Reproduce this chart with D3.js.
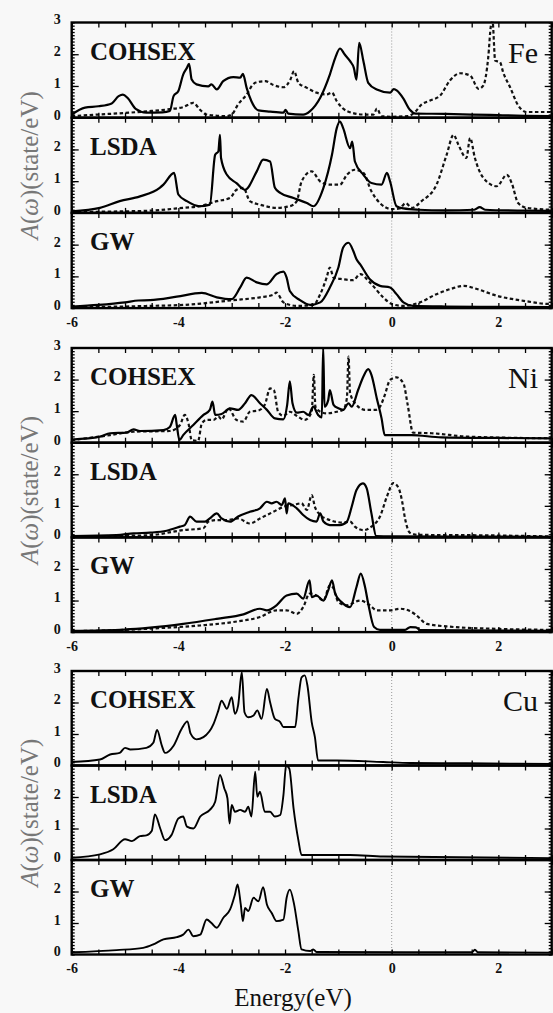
<!DOCTYPE html>
<html>
<head>
<meta charset="utf-8">
<script src="https://cdn.jsdelivr.net/npm/d3@7"></script>
<style>
  body { margin: 0; background: #f8f8f8; }
  svg { display: block; font-family: "Liberation Serif", "Times New Roman", serif; }
</style>
</head>
<body>
<svg id="chart" width="553" height="1013"></svg>
<script>
// Spectral functions A(w), [energy (eV), state/eV].
// solid = one spin channel, dotted = the other.

var elements = ['Fe', 'Ni', 'Cu'];
var methods = ['COHSEX', 'LSDA', 'GW'];
var xTickLabels = [-6, -4, -2, 0, 2];
var yTickLabels = [0, 1, 2, 3];

// Fe
var feCohsexSolid = [[-6,0.1],[-5.75,0.32],[-5.5,0.36],[-5.25,0.45],[-5.12,0.68],[-5.04,0.73],[-4.95,0.62],[-4.8,0.28],[-4.6,0.16],[-4.3,0.17],[-4.16,0.21],[-4.09,0.68],[-4.0,0.84],[-3.91,1.36],[-3.84,1.57],[-3.8,1.7],[-3.75,1.2],[-3.66,1.05],[-3.44,0.99],[-3.38,1.05],[-3.28,0.89],[-3.16,1.15],[-2.97,1.28],[-2.84,1.26],[-2.79,1.38],[-2.72,0.94],[-2.63,0.52],[-2.5,0.23],[-2.28,0.19],[-2.03,0.16],[-1.99,0.25],[-1.94,0.13],[-1.66,0.1],[-1.53,0.21],[-1.34,0.63],[-1.16,1.36],[-1.06,1.88],[-0.97,2.18],[-0.88,1.99],[-0.78,1.78],[-0.71,1.57],[-0.66,1.2],[-0.61,2.36],[-0.53,1.78],[-0.44,1.1],[-0.28,0.89],[-0.03,0.79],[0.04,0.9],[0.1,0.85],[0.22,0.6],[0.34,0.25],[0.45,0.13],[1.0,0.12],[1.5,0.1],[2.0,0.08],[2.5,0.06],[3.0,0.05]];
var feCohsexDotted = [[-6,0.05],[-5.5,0.1],[-5.0,0.15],[-4.6,0.2],[-4.16,0.27],[-3.9,0.34],[-3.72,0.47],[-3.6,0.26],[-3.47,0.1],[-3.1,0.05],[-3.0,0.1],[-2.88,0.42],[-2.72,0.73],[-2.6,1.05],[-2.5,1.13],[-2.37,1.15],[-2.22,1.03],[-2.03,0.96],[-1.9,1.2],[-1.83,1.47],[-1.75,1.1],[-1.59,0.94],[-1.41,0.79],[-1.22,0.73],[-1.12,0.79],[-1.03,0.52],[-0.84,0.21],[-0.53,0.1],[-0.34,0.1],[-0.28,0.29],[-0.19,0.05],[0,0.03],[0.3,0.05],[0.45,0.2],[0.55,0.4],[0.72,0.54],[0.91,0.7],[1.09,1.17],[1.28,1.4],[1.47,1.33],[1.63,0.91],[1.72,1.02],[1.81,1.9],[1.86,2.9],[1.89,3.05],[1.94,1.8],[2.03,1.75],[2.09,1.43],[2.22,0.96],[2.37,0.39],[2.53,0.18],[3.0,0.18]];
var feLsdaSolid = [[-6,0.05],[-5.47,0.16],[-5.1,0.37],[-4.72,0.52],[-4.35,0.79],[-4.28,0.89],[-4.08,1.26],[-4.0,0.58],[-3.84,0.37],[-3.6,0.21],[-3.41,0.26],[-3.31,1.83],[-3.25,1.94],[-3.22,2.46],[-3.2,1.73],[-3.09,1.2],[-2.91,0.94],[-2.75,0.73],[-2.53,1.31],[-2.41,1.68],[-2.28,1.62],[-2.19,0.79],[-2.09,0.63],[-1.84,0.47],[-1.59,0.31],[-1.47,0.21],[-1.28,0.79],[-1.12,1.83],[-1.03,2.67],[-0.97,2.88],[-0.91,2.67],[-0.78,2.04],[-0.74,2.25],[-0.69,1.62],[-0.53,1.2],[-0.38,0.94],[-0.19,0.89],[-0.09,1.26],[-0.03,0.99],[0.09,0.21],[0.22,0.14],[0.5,0.1],[1.0,0.08],[1.55,0.1],[1.65,0.18],[1.75,0.1],[2.5,0.07],[3,0.06]];
var feLsdaDotted = [[-6,0.03],[-5,0.05],[-4.53,0.07],[-3.91,0.16],[-3.6,0.21],[-3.28,0.37],[-3.03,0.47],[-2.91,0.73],[-2.78,0.79],[-2.66,0.37],[-2.47,0.26],[-2.16,0.16],[-1.91,0.21],[-1.78,0.37],[-1.69,0.99],[-1.5,1.31],[-1.34,0.99],[-1.16,0.89],[-0.97,0.89],[-0.84,1.2],[-0.69,1.36],[-0.53,1.26],[-0.38,0.68],[-0.22,0.31],[0,0.12],[0.15,0.14],[0.26,0.31],[0.38,0.16],[0.56,0.37],[0.84,0.89],[1.03,1.83],[1.16,2.46],[1.25,2.15],[1.4,1.73],[1.47,2.36],[1.56,1.73],[1.72,1.1],[1.97,0.84],[2.16,1.2],[2.25,0.94],[2.37,0.31],[2.53,0.16],[3.0,0.1]];
var feGwSolid = [[-6,0.05],[-5.5,0.1],[-5,0.18],[-4.75,0.24],[-4.53,0.25],[-4.03,0.36],[-3.56,0.48],[-3.28,0.34],[-3.0,0.28],[-2.84,0.65],[-2.72,0.96],[-2.53,0.81],[-2.34,0.75],[-2.16,1.07],[-2.03,1.15],[-1.97,0.96],[-1.91,0.54],[-1.72,0.25],[-1.53,0.1],[-1.34,0.18],[-1.16,0.65],[-1.0,1.28],[-0.91,1.91],[-0.81,2.06],[-0.72,1.8],[-0.66,1.54],[-0.59,1.38],[-0.41,0.91],[-0.22,0.7],[-0.03,0.65],[0.09,0.44],[0.22,0.18],[0.4,0.07],[1,0.05],[2,0.04],[3,0.03]];
var feGwDotted = [[-6,0.03],[-5,0.05],[-4.53,0.07],[-3.91,0.1],[-2.97,0.25],[-2.47,0.34],[-2.22,0.42],[-2.16,0.49],[-2.03,0.18],[-1.78,0.07],[-1.47,0.1],[-1.34,0.44],[-1.22,0.96],[-1.16,1.28],[-1.09,0.96],[-0.91,0.91],[-0.72,0.88],[-0.59,1.07],[-0.41,0.81],[-0.16,0.34],[0,0.13],[0.22,0.07],[0.53,0.18],[0.84,0.44],[1.1,0.6],[1.35,0.7],[1.6,0.6],[1.97,0.39],[2.47,0.23],[2.97,0.13],[3,0.13]];

// Ni
var niCohsexSolid = [[-6,0.1],[-5.47,0.19],[-5.28,0.3],[-4.97,0.32],[-4.84,0.42],[-4.72,0.37],[-4.28,0.4],[-4.16,0.5],[-4.06,0.88],[-4.03,0.56],[-3.98,0.08],[-3.91,0.24],[-3.72,0.56],[-3.53,0.88],[-3.41,1.04],[-3.36,1.3],[-3.31,0.88],[-3.19,0.91],[-3.03,1.09],[-2.88,1.04],[-2.75,1.25],[-2.63,1.51],[-2.47,1.25],[-2.34,1.04],[-2.19,0.77],[-2.03,0.74],[-1.96,1.2],[-1.91,1.94],[-1.86,1.25],[-1.78,0.95],[-1.66,0.98],[-1.56,0.88],[-1.47,1.14],[-1.38,0.88],[-1.31,0.8],[-1.285,3.05],[-1.26,1.14],[-1.19,1.35],[-1.16,1.67],[-1.09,1.2],[-1.0,1.09],[-0.91,1.04],[-0.81,1.25],[-0.75,1.14],[-0.63,1.67],[-0.53,2.1],[-0.44,2.33],[-0.38,2.15],[-0.28,1.41],[-0.19,0.77],[-0.13,0.24],[0.03,0.24],[0.37,0.24],[0.93,0.17],[2,0.15],[3,0.14]];
var niCohsexDotted = [[-6,0.08],[-5.28,0.24],[-4.84,0.35],[-4.16,0.37],[-3.97,0.56],[-3.88,0.88],[-3.81,0.61],[-3.75,0.08],[-3.63,0.06],[-3.56,0.61],[-3.47,0.72],[-3.34,0.72],[-3.25,0.83],[-3.19,0.74],[-3.06,1.09],[-2.91,0.72],[-2.78,0.67],[-2.66,0.98],[-2.5,1.02],[-2.38,1.2],[-2.28,1.72],[-2.21,1.67],[-2.13,0.98],[-2.03,0.85],[-1.91,0.98],[-1.78,0.85],[-1.63,0.72],[-1.5,0.98],[-1.46,2.15],[-1.43,1.14],[-1.34,0.98],[-1.22,0.93],[-1.03,0.98],[-0.91,1.04],[-0.84,1.41],[-0.81,2.73],[-0.78,1.57],[-0.66,1.2],[-0.5,1.04],[-0.31,1.04],[-0.22,1.14],[-0.13,1.51],[-0.03,1.99],[0.09,2.07],[0.22,1.88],[0.3,1.2],[0.4,0.32],[0.75,0.3],[1.44,0.19],[3,0.14]];
var niLsdaSolid = [[-6,0.04],[-5.16,0.07],[-4.84,0.13],[-4.53,0.15],[-4.22,0.21],[-3.97,0.34],[-3.88,0.39],[-3.78,0.66],[-3.66,0.5],[-3.5,0.5],[-3.41,0.6],[-3.28,0.76],[-3.19,0.6],[-3.03,0.5],[-2.88,0.66],[-2.66,0.81],[-2.47,0.92],[-2.34,1.13],[-2.25,1.08],[-2.16,1.13],[-2.06,1.03],[-2.0,1.24],[-1.97,0.76],[-1.94,1.08],[-1.78,0.92],[-1.66,0.71],[-1.53,0.55],[-1.41,0.5],[-1.34,0.76],[-1.28,0.5],[-1.16,0.39],[-0.97,0.39],[-0.84,0.5],[-0.75,0.97],[-0.66,1.5],[-0.54,1.71],[-0.47,1.56],[-0.38,0.76],[-0.29,0.04],[0,0.03],[3,0.02]];
var niLsdaDotted = [[-6,0.02],[-5,0.05],[-4.53,0.07],[-3.91,0.23],[-3.53,0.29],[-3.44,0.5],[-3.28,0.55],[-3.09,0.55],[-2.88,0.6],[-2.66,0.44],[-2.47,0.6],[-2.22,0.81],[-2.03,0.97],[-1.84,1.03],[-1.69,1.08],[-1.59,0.87],[-1.5,1.34],[-1.44,0.97],[-1.34,0.71],[-1.16,0.55],[-0.91,0.47],[-0.78,0.5],[-0.69,0.34],[-0.53,0.23],[-0.38,0.34],[-0.22,0.66],[-0.09,1.29],[0.03,1.72],[0.13,1.56],[0.2,1.1],[0.25,0.6],[0.34,0.15],[0.5,0.08],[1.5,0.07],[3,0.03]];
var niGwSolid = [[-6,0.04],[-5,0.08],[-4.53,0.14],[-3.91,0.26],[-3.28,0.42],[-2.78,0.56],[-2.47,0.74],[-2.34,0.69],[-2.16,0.85],[-1.97,1.16],[-1.78,1.22],[-1.66,1.06],[-1.54,1.64],[-1.5,1.11],[-1.41,1.16],[-1.28,1.0],[-1.19,1.32],[-1.12,1.64],[-1.06,1.22],[-0.94,0.95],[-0.78,0.79],[-0.66,1.43],[-0.58,1.85],[-0.5,1.43],[-0.44,0.9],[-0.33,0.16],[-0.22,0.07],[0.25,0.07],[0.35,0.16],[0.45,0.15],[0.55,0.06],[3,0.04]];
var niGwDotted = [[-6,0.03],[-5,0.07],[-4.53,0.11],[-3.59,0.21],[-2.97,0.32],[-2.47,0.48],[-2.16,0.69],[-1.97,0.69],[-1.78,0.58],[-1.66,0.79],[-1.54,1.22],[-1.41,1.16],[-1.28,1.0],[-1.16,1.48],[-1.09,1.38],[-1.0,0.95],[-0.84,0.85],[-0.59,1.0],[-0.41,0.85],[-0.28,0.69],[-0.03,0.69],[0.16,0.74],[0.34,0.67],[0.45,0.55],[0.66,0.26],[1.03,0.18],[2.03,0.1],[3,0.07]];

// Cu (non-magnetic, one curve)
var cuCohsexSolid = [[-6,0.11],[-5.47,0.19],[-5.28,0.35],[-5.1,0.4],[-5.0,0.56],[-4.9,0.51],[-4.6,0.56],[-4.47,0.72],[-4.4,1.13],[-4.31,0.63],[-4.25,0.4],[-4.09,0.63],[-3.94,1.16],[-3.83,1.4],[-3.77,1.01],[-3.66,0.83],[-3.53,0.9],[-3.34,1.32],[-3.25,1.75],[-3.19,2.06],[-3.09,1.8],[-3.0,2.17],[-2.94,1.64],[-2.88,1.9],[-2.81,2.96],[-2.76,1.69],[-2.69,1.53],[-2.59,1.59],[-2.52,1.75],[-2.44,1.48],[-2.34,2.43],[-2.28,2.01],[-2.19,1.48],[-2.09,1.38],[-2.03,1.22],[-1.91,1.22],[-1.81,1.22],[-1.75,2.12],[-1.69,2.8],[-1.63,2.86],[-1.58,2.54],[-1.5,1.38],[-1.44,0.9],[-1.38,0.16],[-1.03,0.16],[-0.16,0.11],[0.34,0.08],[1.4,0.07],[3,0.05]];
var cuLsdaSolid = [[-6,0.07],[-5.47,0.18],[-5.22,0.34],[-5.0,0.66],[-4.87,0.6],[-4.72,0.76],[-4.6,0.78],[-4.5,0.92],[-4.44,1.45],[-4.34,1.0],[-4.25,0.63],[-4.13,0.79],[-4.0,1.32],[-3.91,1.38],[-3.84,1.06],[-3.72,1.0],[-3.59,1.38],[-3.41,1.59],[-3.31,1.85],[-3.22,2.7],[-3.14,2.28],[-3.08,1.96],[-3.04,1.16],[-3.0,1.75],[-2.94,1.53],[-2.84,1.59],[-2.75,1.53],[-2.69,1.69],[-2.63,1.38],[-2.56,2.8],[-2.52,2.01],[-2.47,2.17],[-2.38,1.53],[-2.28,1.53],[-2.19,1.38],[-2.09,1.43],[-2.03,2.06],[-1.98,3.0],[-1.92,2.9],[-1.84,1.64],[-1.75,0.63],[-1.69,0.16],[-0.78,0.16],[-0.16,0.11],[3,0.06]];
var cuGwSolid = [[-6,0.07],[-5.16,0.14],[-4.66,0.21],[-4.47,0.32],[-4.28,0.48],[-4.03,0.55],[-3.91,0.63],[-3.81,0.79],[-3.72,0.58],[-3.59,0.63],[-3.47,1.11],[-3.38,1.0],[-3.28,0.85],[-3.16,1.16],[-3.03,1.43],[-2.94,1.9],[-2.89,2.22],[-2.83,1.59],[-2.79,1.06],[-2.75,1.48],[-2.69,1.38],[-2.59,1.8],[-2.5,1.69],[-2.41,2.14],[-2.34,1.59],[-2.25,1.32],[-2.16,1.06],[-2.03,1.11],[-1.97,1.8],[-1.91,2.06],[-1.83,1.59],[-1.75,0.74],[-1.69,0.16],[-1.53,0.11],[-1.47,0.16],[-1.41,0.08],[0.34,0.07],[1.5,0.07],[1.56,0.15],[1.62,0.07],[3,0.06]];

// which arrays go in which panel
var curves = {
  Fe: {COHSEX: [feCohsexSolid, feCohsexDotted], LSDA: [feLsdaSolid, feLsdaDotted], GW: [feGwSolid, feGwDotted]},
  Ni: {COHSEX: [niCohsexSolid, niCohsexDotted], LSDA: [niLsdaSolid, niLsdaDotted], GW: [niGwSolid, niGwDotted]},
  Cu: {COHSEX: [cuCohsexSolid], LSDA: [cuLsdaSolid], GW: [cuGwSolid]}
};

// layout
var groupTop = {Fe: 22.5, Ni: 348, Cu: 671};
var panelH = {Fe: 95.2, Ni: 94.7, Cu: 94.5};
var left = 71.7, right = 551.7;
var serif = 'Liberation Serif, Times New Roman, serif';

var svg = d3.select('#chart');
svg.append('rect').attr('width', 553).attr('height', 1013).attr('fill', '#f8f8f8');

var x = d3.scaleLinear().domain([-6, 3]).range([left, right]);
var xMinor = d3.range(-6, 3.001, 0.5);
var yMinor = d3.range(0, 3.001, 0.1);

var line = d3.line().curve(d3.curveMonotoneX);

elements.forEach(function(el) {
  var top = groupTop[el], h = panelH[el];
  var bottom = top + 3 * h;
  var g = svg.append('g');

  // dotted Fermi level line
  g.append('line')
    .attr('x1', x(0)).attr('x2', x(0))
    .attr('y1', top).attr('y2', bottom)
    .attr('stroke', '#999').attr('stroke-width', 1)
    .attr('stroke-dasharray', '1,2');

  methods.forEach(function(m, pi) {
    var pTop = top + pi * h;
    var y = d3.scaleLinear().domain([0, 3]).range([pTop + h, pTop]);
    var clipId = 'clip-' + el + '-' + m;

    svg.append('clipPath').attr('id', clipId)
      .append('rect').attr('x', left).attr('y', pTop - 1)
      .attr('width', right - left).attr('height', h + 1);

    line.x(function(d) { return x(d[0]); })
        .y(function(d) { return y(d[1]); });

    var series = curves[el][m];
    // dotted first, solid on top
    if (series[1]) {
      g.append('path').datum(series[1])
        .attr('clip-path', 'url(#' + clipId + ')')
        .attr('fill', 'none').attr('stroke', '#111')
        .attr('stroke-width', 2.2).attr('stroke-dasharray', '3.5,2.5')
        .attr('d', line);
    }
    g.append('path').datum(series[0])
      .attr('clip-path', 'url(#' + clipId + ')')
      .attr('fill', 'none').attr('stroke', '#000')
      .attr('stroke-width', el === 'Cu' ? 1.9 : 2.2)
      .attr('stroke-linejoin', 'round')
      .attr('d', line);

    // inward ticks, all four sides
    g.append('g').attr('transform', 'translate(0,' + pTop + ')')
      .call(d3.axisBottom(x).tickValues(xMinor).tickSize(5).tickFormat(''))
      .call(function(a) { a.select('.domain').remove(); });
    g.append('g').attr('transform', 'translate(0,' + (pTop + h) + ')')
      .call(d3.axisTop(x).tickValues(xMinor).tickSize(5).tickFormat(''))
      .call(function(a) { a.select('.domain').remove(); });

    g.append('g').attr('transform', 'translate(' + left + ',0)')
      .call(d3.axisRight(y).tickValues(yMinor).tickSize(3).tickFormat(''))
      .call(function(a) { a.select('.domain').remove(); });
    g.append('g').attr('transform', 'translate(' + left + ',0)')
      .call(d3.axisRight(y).tickValues([1, 2]).tickSize(7).tickFormat(''))
      .call(function(a) { a.select('.domain').remove(); });
    g.append('g').attr('transform', 'translate(' + right + ',0)')
      .call(d3.axisLeft(y).tickValues(yMinor).tickSize(3).tickFormat(''))
      .call(function(a) { a.select('.domain').remove(); });
    g.append('g').attr('transform', 'translate(' + right + ',0)')
      .call(d3.axisLeft(y).tickValues([1, 2]).tickSize(7).tickFormat(''))
      .call(function(a) { a.select('.domain').remove(); });
    g.selectAll('.tick line').attr('stroke', '#000').attr('stroke-width', 1.3);

    // y tick labels
    var yl = g.append('g').attr('transform', 'translate(' + left + ',0)')
      .call(d3.axisLeft(y).tickValues(pi === 0 ? yTickLabels : yTickLabels.slice(0, 3))
        .tickSize(0).tickPadding(11).tickFormat(function(d) { return String(d); }));
    yl.select('.domain').remove();
    yl.selectAll('text').attr('font-family', serif).attr('font-size', 14)
      .attr('font-weight', 'bold').attr('dy', '0.1em').attr('fill', '#111');

    // frame
    g.append('rect').attr('x', left).attr('y', pTop)
      .attr('width', right - left).attr('height', h)
      .attr('fill', 'none').attr('stroke', '#000').attr('stroke-width', 2.4);

    // method label
    g.append('text').attr('x', 90).attr('y', pTop + 37)
      .attr('font-family', serif).attr('font-size', 25)
      .attr('font-weight', 'bold').attr('fill', '#111')
      .text(m);
  });

  // element label
  g.append('text').attr('x', 538).attr('y', top + 40)
    .attr('text-anchor', 'end').attr('font-size', 30)
    .attr('font-family', serif).attr('fill', '#111')
    .text(el);

  // x tick labels
  var xl = g.append('g').attr('transform', 'translate(0,' + bottom + ')')
    .call(d3.axisBottom(x).tickValues(xTickLabels).tickSize(0).tickPadding(9)
      .tickFormat(function(d) { return String(d); }));
  xl.select('.domain').remove();
  xl.selectAll('text').attr('font-family', serif).attr('font-size', 14)
    .attr('font-weight', 'bold').attr('fill', '#111');

  // y axis title
  var t = g.append('text')
    .attr('transform', 'translate(38,' + (top + 1.5 * h) + ') rotate(-90)')
    .attr('text-anchor', 'middle').attr('font-size', 25)
    .attr('font-family', serif).attr('fill', '#777');
  t.append('tspan').attr('font-style', 'italic').text('A');
  t.append('tspan').text('(');
  t.append('tspan').attr('font-style', 'italic').text('ω');
  t.append('tspan').text(')(state/eV)');
});

svg.append('text').attr('x', 293).attr('y', 1006)
  .attr('text-anchor', 'middle').attr('font-size', 25)
  .attr('font-family', serif).attr('fill', '#111')
  .text('Energy(eV)');
</script>
</body>
</html>
